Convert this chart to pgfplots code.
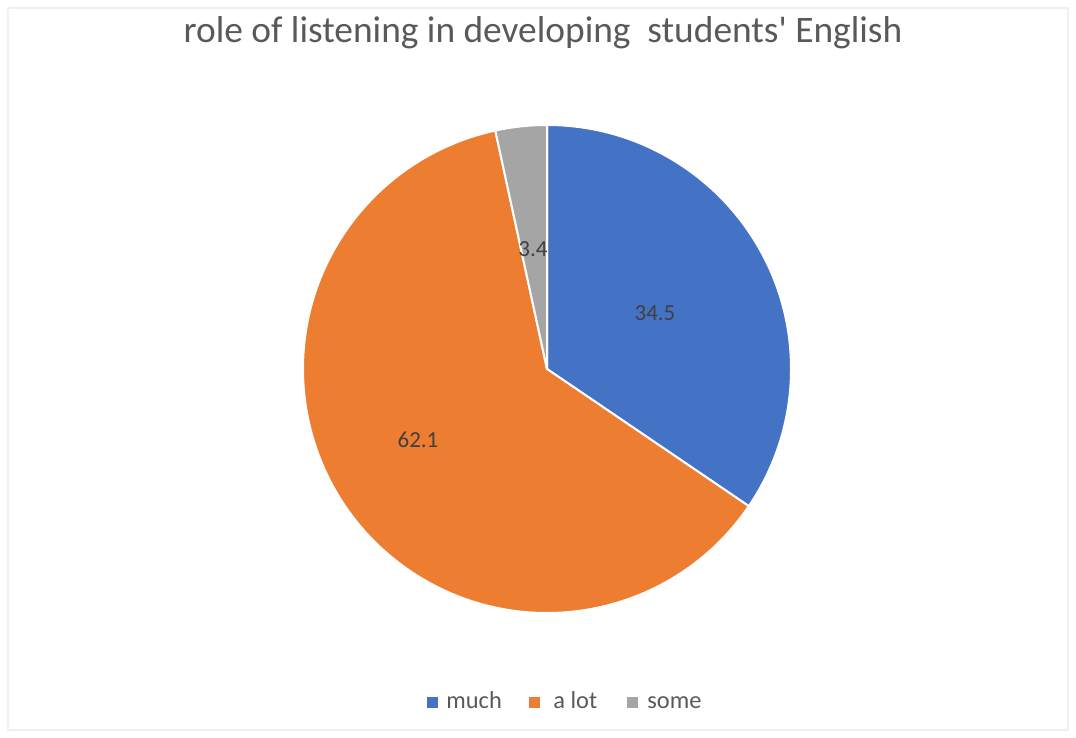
\documentclass[border=0pt]{standalone}
\usepackage{pgfplots}
\pgfplotsset{compat=1.18}
\usepackage{fontspec}
\setmainfont{Carlito}
\definecolor{cA}{HTML}{4472C4}
\definecolor{cB}{HTML}{ED7D31}
\definecolor{cC}{HTML}{A5A5A5}
\definecolor{ttl}{HTML}{595959}
\definecolor{lbl}{HTML}{404040}
\def\vA{34.5}\def\vB{62.1}\def\vC{3.4}
\pgfmathsetmacro\aA{90}
\pgfmathsetmacro\aB{90-3.6*\vA}
\pgfmathsetmacro\aC{\aB-3.6*\vB}
\pgfmathsetmacro\aD{\aC-3.6*\vC}
\begin{document}
\begin{tikzpicture}
\begin{axis}[width=538pt,height=369pt,scale only axis,xmin=0,xmax=1076,ymin=0,ymax=738,hide axis,clip=false]
\path (axis cs:0,0) rectangle (axis cs:1076,738);
\draw[color=black!6,line width=0.6pt] (axis cs:8,8) rectangle (axis cs:1068,730);
\node[anchor=base,text=ttl,font=\fontsize{18.7}{22}\selectfont] at (axis cs:543,695) {role of listening in developing\ \ students\textquotesingle{} English};
\filldraw[fill=cA,draw=white,line width=1pt,line join=round] (axis cs:547,369) -- ++(\aA:122pt) arc[start angle=\aA,end angle=\aB,radius=122pt] -- cycle;
\filldraw[fill=cB,draw=white,line width=1pt,line join=round] (axis cs:547,369) -- ++(\aB:122pt) arc[start angle=\aB,end angle=\aC,radius=122pt] -- cycle;
\filldraw[fill=cC,draw=white,line width=1pt,line join=round] (axis cs:547,369) -- ++(\aC:122pt) arc[start angle=\aC,end angle=\aD,radius=122pt] -- cycle;
\node[text=lbl,font=\fontsize{11.5}{13}\selectfont] at (axis cs:655,425) {\vA};
\node[text=lbl,font=\fontsize{11.5}{13}\selectfont] at (axis cs:418,298) {\vB};
\node[text=lbl,font=\fontsize{11.5}{13}\selectfont] at (axis cs:533,489) {\vC};
\fill[cA] (axis cs:427,30) rectangle (axis cs:438,41);
\fill[cB] (axis cs:529,30) rectangle (axis cs:540,41);
\fill[cC] (axis cs:627,30) rectangle (axis cs:638,41);
\node[anchor=base west,inner sep=0pt,text=ttl,font=\fontsize{12.2}{14}\selectfont] at (axis cs:446,29) {much};
\node[anchor=base west,inner sep=0pt,text=ttl,font=\fontsize{12.2}{14}\selectfont] at (axis cs:553,29) {a lot};
\node[anchor=base west,inner sep=0pt,text=ttl,font=\fontsize{12.2}{14}\selectfont] at (axis cs:647,29) {some};
\end{axis}
\end{tikzpicture}
\end{document}
